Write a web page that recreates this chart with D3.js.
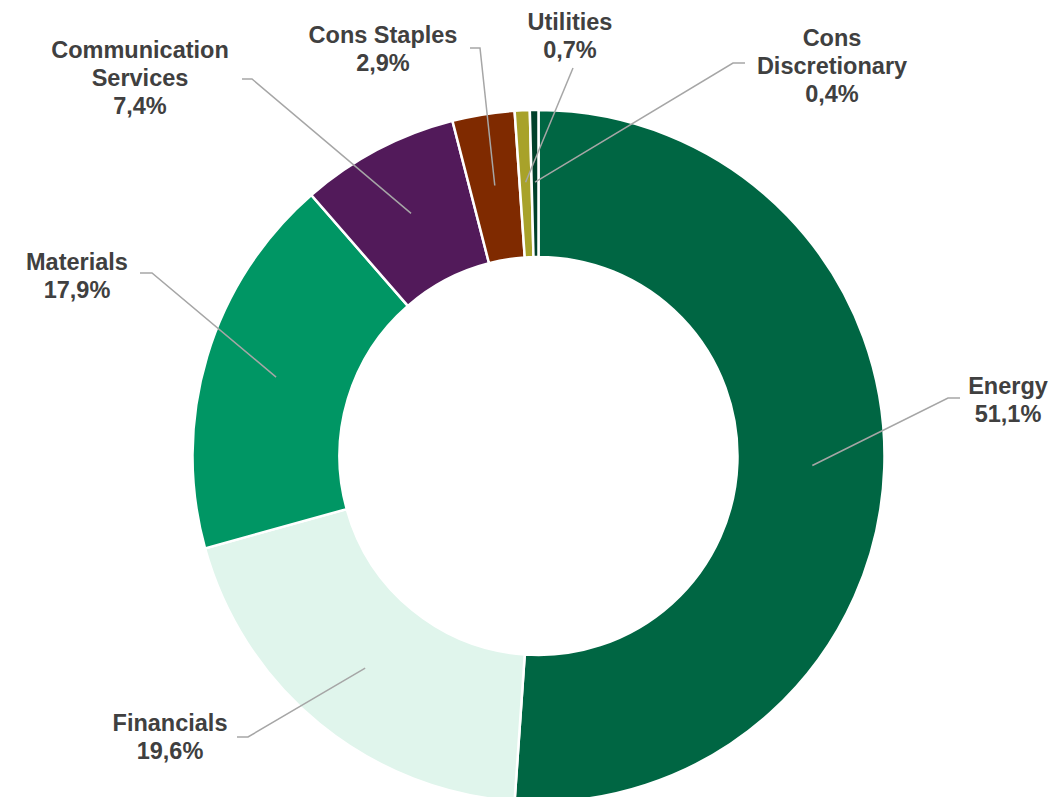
<!DOCTYPE html>
<html>
<head>
<meta charset="utf-8">
<script src="https://cdn.jsdelivr.net/npm/d3@7"></script>
<style>
  html, body { margin: 0; padding: 0; background: #fff; }
  svg { display: block; }
</style>
</head>
<body>
<div id="chart"></div>
<script>
// sector weights, in chart order (clockwise from 12 o'clock)
const sectors = ["Energy", "Financials", "Materials", "Communication Services", "Cons Staples", "Utilities", "Cons Discretionary"];
const weights = [51.1, 19.6, 17.9, 7.4, 2.9, 0.7, 0.4];
const labelLines = [["Energy"], ["Financials"], ["Materials"], ["Communication", "Services"], ["Cons Staples"], ["Utilities"], ["Cons", "Discretionary"]];
const colors = ["#006643", "#e0f5ec", "#009664", "#521a5a", "#7f2a00", "#a8a22a", "#00402a"];

// where each label block sits and where its leader line bends
const labelPos = [
  { x: 1008, y: 386, elbow: [948, 398], end: [960, 398] },
  { x: 170, y: 723, elbow: [248, 737], end: [237, 737] },
  { x: 77, y: 262, elbow: [152, 273], end: [140, 273] },
  { x: 140, y: 50, elbow: [252, 79], end: [242, 79] },
  { x: 383, y: 35, elbow: [480, 48], end: [470, 48] },
  { x: 570, y: 22, elbow: [573, 68], end: null },
  { x: 832, y: 38, elbow: [733, 63], end: [745, 63] }
];

const width = 1053, height = 797;
const cx = 538.5, cy = 456;
const outerR = 346, innerR = 199, leaderR = 274;

const data = sectors.map((s, i) => ({ sector: s, value: weights[i], lines: labelLines[i], color: colors[i], pos: labelPos[i] }));

const svg = d3.select("#chart")
  .append("svg")
  .attr("width", width)
  .attr("height", height);

const g = svg.append("g").attr("transform", `translate(${cx},${cy})`);

const pie = d3.pie().sort(null).value(d => d.value);
const arc = d3.arc().innerRadius(innerR).outerRadius(outerR);
const leaderArc = d3.arc().innerRadius(leaderR).outerRadius(leaderR);

const arcs = pie(data);

g.selectAll("path.slice")
  .data(arcs)
  .enter()
  .append("path")
  .attr("class", "slice")
  .attr("d", arc)
  .attr("fill", d => d.data.color)
  .attr("stroke", "#fff")
  .attr("stroke-width", 2.5)
  .attr("stroke-linejoin", "miter");

// leader lines
svg.selectAll("polyline.leader")
  .data(arcs)
  .enter()
  .append("polyline")
  .attr("class", "leader")
  .attr("points", d => {
    const c = leaderArc.centroid(d);
    const pts = [[cx + c[0], cy + c[1]], d.data.pos.elbow];
    if (d.data.pos.end) pts.push(d.data.pos.end);
    return pts.map(p => p.join(",")).join(" ");
  })
  .attr("fill", "none")
  .attr("stroke", "#a6a6a6")
  .attr("stroke-width", 1.5);

// labels
const lineH = 28;
const labels = svg.selectAll("text.label")
  .data(arcs)
  .enter()
  .append("text")
  .attr("class", "label")
  .attr("text-anchor", "middle")
  .attr("font-family", "Liberation Sans, Arial, sans-serif")
  .attr("font-weight", "bold")
  .attr("font-size", 23.5)
  .attr("fill", "#404040");

labels.each(function(d) {
  const t = d3.select(this);
  const rows = d.data.lines.concat([d3.format(".1f")(d.data.value).replace(".", ",") + "%"]);
  rows.forEach((r, i) => {
    t.append("tspan")
      .attr("x", d.data.pos.x)
      .attr("y", d.data.pos.y + i * lineH)
      .attr("dy", "0.35em")
      .text(r);
  });
});
</script>
</body>
</html>
